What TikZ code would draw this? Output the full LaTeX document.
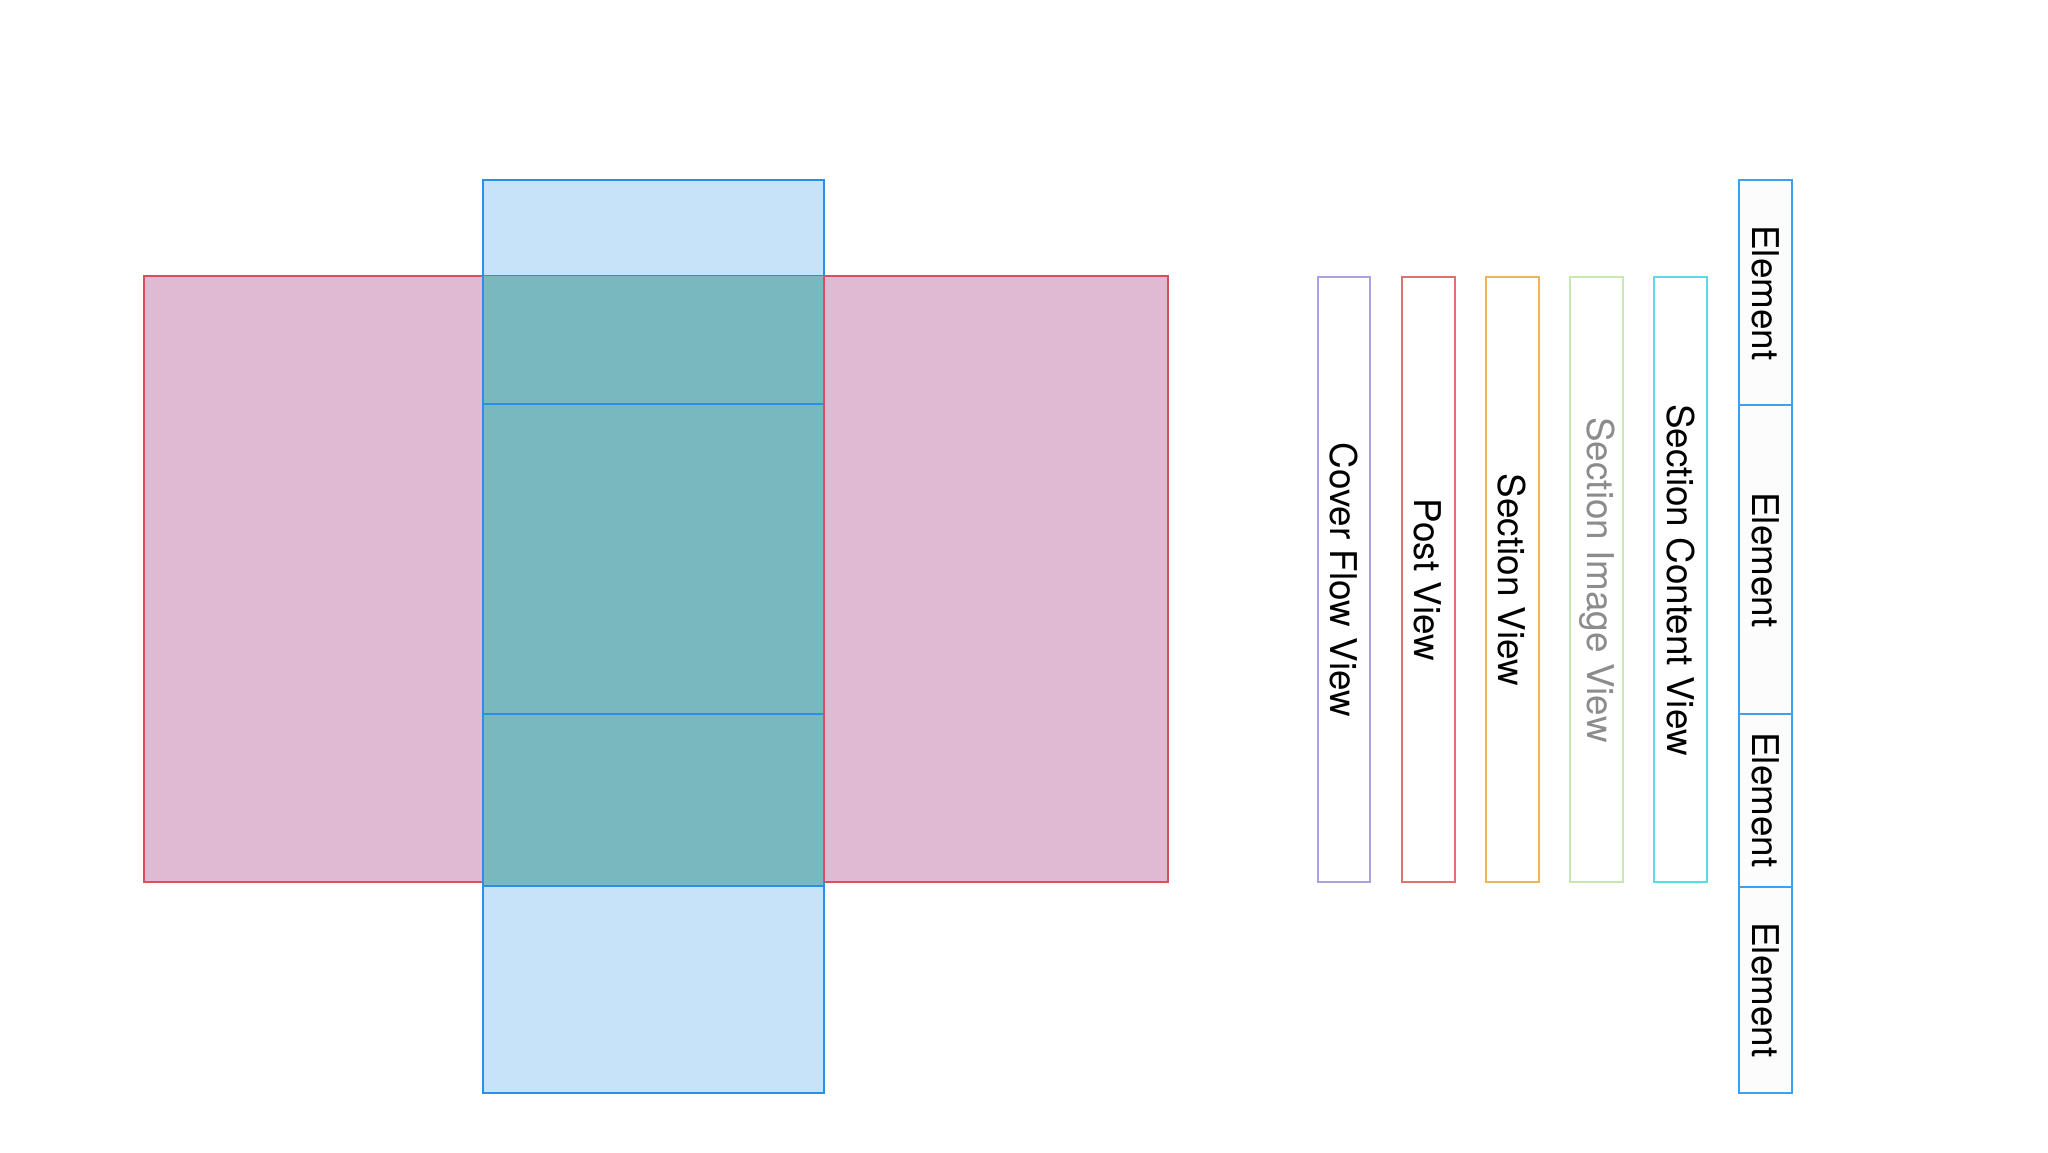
\documentclass[tikz,border=0pt]{standalone}
\usepackage{fontspec}
\setmainfont{TeX Gyre Heros}
\begin{document}
\begin{tikzpicture}[x=1bp,y=-1bp,
  pinkbox/.style={draw=red!70!black!80,fill=pinkfill,line width=1.5bp},
  bluecell/.style={draw=bluedge,fill=lightblue,line width=2bp},
  tealcell/.style={draw=bluedge,fill=tealfill,line width=2bp},
  strip/.style={line width=1.5bp,fill=white},
  lbl/.style={rotate=-90,font=\fontsize{37}{40}\selectfont,text=black}]
\definecolor{pinkfill}{HTML}{DFBAD2}
\definecolor{pinkedge}{HTML}{D9505A}
\definecolor{lightblue}{HTML}{C6E3FA}
\definecolor{bluedge}{HTML}{2B8FE6}
\definecolor{tealfill}{HTML}{78B8BE}
\definecolor{cpurple}{HTML}{A9A0E6}
\definecolor{cred}{HTML}{E07070}
\definecolor{corange}{HTML}{EDB45A}
\definecolor{cgreen}{HTML}{C7E8B0}
\definecolor{ccyan}{HTML}{5FD9E8}
\definecolor{eblue}{HTML}{3EA0F0}
\useasboundingbox (0,0) rectangle (2048,1152);
\draw[pinkbox,draw=pinkedge] (144,276) rectangle (1168,882);
\draw[bluecell] (483,180) rectangle (824,276);
\draw[tealcell,draw=none] (483,276) rectangle (824,886);
\draw[bluecell] (483,886) rectangle (824,1093);
\draw[bluecell,fill=none] (483,180) rectangle (824,404);
\draw[bluecell,fill=none] (483,404) rectangle (824,714);
\draw[bluecell,fill=none] (483,714) rectangle (824,886);
\draw[pinkedge,line width=1.5bp] (824,276) -- (824,882);
% strips
\draw[strip,draw=cpurple] (1318,277) rectangle (1370,882);
\node[lbl] (cover) at (1344,580) {Cover Flow View};
\draw[strip,draw=cred] (1402,277) rectangle (1455,882);
\node[lbl] (post) at (1428,580) {Post View};
\draw[strip,draw=corange] (1486,277) rectangle (1539,882);
\node[lbl] (sect) at (1512,580) {Section View};
\draw[strip,draw=cgreen] (1570,277) rectangle (1623,882);
\node[lbl,text=black!45] (simg) at (1597,580) {Section Image View};
\draw[strip,draw=ccyan] (1654,277) rectangle (1707,882);
\node[lbl] (scont) at (1681,580) {Section Content View};
\draw[strip,draw=eblue,fill=black!1] (1739,180) rectangle (1792,405);
\draw[strip,draw=eblue,fill=black!1] (1739,405) rectangle (1792,714);
\draw[strip,draw=eblue,fill=black!1] (1739,714) rectangle (1792,887);
\draw[strip,draw=eblue,fill=black!1] (1739,887) rectangle (1792,1093);
\node[lbl] (e1) at (1766,293) {Element};
\node[lbl] (e2) at (1766,560) {Element};
\node[lbl] (e3) at (1766,800) {Element};
\node[lbl] (e4) at (1766,990) {Element};
\end{tikzpicture}
\end{document}
